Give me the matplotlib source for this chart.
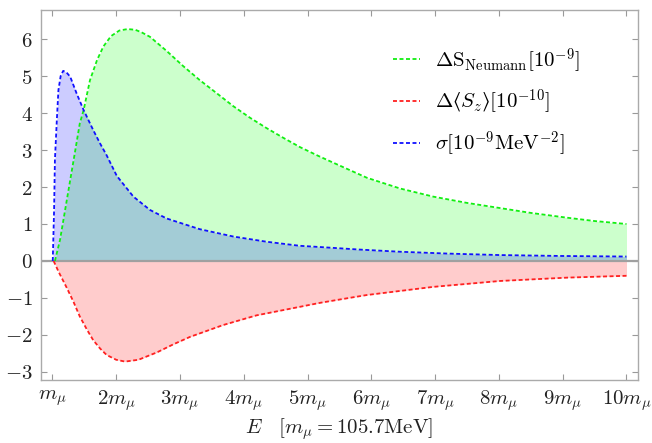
import numpy as np
import matplotlib
matplotlib.use("Agg")
import matplotlib.pyplot as plt

plt.rcParams["mathtext.fontset"] = "cm"
plt.rcParams["font.family"] = "serif"
plt.rcParams["font.serif"] = ["DejaVu Serif"]

# Delta S_Neumann [1e-9]
green_x = [1.04, 1.12, 1.2, 1.28, 1.36, 1.43, 1.49, 1.59, 1.7, 1.8, 1.92, 2.05, 2.18,
           2.3, 2.4, 2.53, 2.79, 3.05, 3.31, 3.58, 3.84, 4.1, 4.36, 4.62, 4.88, 5.17,
           5.4, 5.93, 6.45, 6.97, 7.5, 8.02, 8.5, 9.07, 9.5, 10.0]
green_y = [0.0, 0.57, 1.38, 2.19, 3.0, 3.72, 4.08, 4.89, 5.43, 5.8, 6.08, 6.23, 6.27,
           6.25, 6.18, 6.06, 5.68, 5.27, 4.89, 4.53, 4.18, 3.87, 3.59, 3.33, 3.08,
           2.84, 2.66, 2.25, 1.96, 1.74, 1.57, 1.43, 1.30, 1.17, 1.08, 1.0]

# Delta <S_z> [1e-10]
red_x = [1.02, 1.1, 1.23, 1.33, 1.43, 1.54, 1.64, 1.75, 1.85, 2.0, 2.14, 2.35, 2.64,
         2.9, 3.16, 3.68, 4.2, 4.73, 5.2, 5.51, 5.93, 6.97, 8.02, 9.07, 10.0]
red_y = [0.0, -0.3, -0.74, -1.1, -1.5, -1.85, -2.14, -2.37, -2.54, -2.67, -2.72, -2.67,
         -2.47, -2.25, -2.05, -1.73, -1.47, -1.29, -1.13, -1.04, -0.92, -0.7, -0.54,
         -0.45, -0.4]

# sigma [1e-9 MeV^-2]
blue_x = [1.006, 1.027, 1.04, 1.07, 1.095, 1.13, 1.17, 1.22, 1.28, 1.38, 1.49, 1.64,
          1.75, 1.85, 2.01, 2.27, 2.53, 2.79, 3.31, 3.84, 4.36, 4.88, 5.17, 5.8, 6.45,
          7.2, 8.02, 9.0, 10.0]
blue_y = [0.0, 1.38, 2.73, 3.81, 4.62, 5.0, 5.14, 5.1, 4.98, 4.53, 4.08, 3.54,
          3.17, 2.86, 2.3, 1.74, 1.38, 1.15, 0.86, 0.66, 0.52, 0.41, 0.38, 0.31, 0.25,
          0.2, 0.16, 0.135, 0.12]

xticks = list(range(1, 11))
xticklabels = [r"$m_\mu$"] + [rf"${k}m_\mu$" for k in range(2, 11)]
yticks = list(range(-3, 7))

fig = plt.figure(figsize=(6.52, 4.43), dpi=100)
ax = fig.add_axes([0.063, 0.142, 0.915, 0.835])

ax.fill_between(green_x, green_y, 0, color="#00ff00", alpha=0.2, lw=0)
ax.fill_between(red_x, red_y, 0, color="#ff0000", alpha=0.2, lw=0)
ax.fill_between(blue_x, blue_y, 0, color="#0000ff", alpha=0.2, lw=0)
ax.axhline(0, color="#a0a0a0", lw=1.6, zorder=2)

dash = (0, (2.2, 1.4))
ax.plot(green_x, green_y, color="#11ee11", lw=1.3, ls=dash, zorder=3,
        label=r"$\Delta\mathrm{S}_{\mathrm{Neumann}}[10^{-9}]$")
ax.plot(red_x, red_y, color="#ff2020", lw=1.3, ls=dash, zorder=3,
        label="$\\Delta\u27e8S_z\u27e9[10^{-10}]$")
ax.plot(blue_x, blue_y, color="#1010ff", lw=1.3, ls=dash, zorder=3,
        label=r"$\sigma[10^{-9}\mathrm{MeV}^{-2}]$")

ax.set_xlim(0.823, 10.175)
ax.set_ylim(-3.22, 6.78)
ax.set_xticks(xticks)
ax.set_xticklabels(xticklabels)
ax.set_yticks(yticks)
ax.set_yticklabels([rf"${v}$" for v in yticks])
ax.tick_params(direction="in", length=4, width=0.8, color="#999999",
               top=True, right=True, labelsize=15, labelcolor="#222222", pad=6)
for s in ax.spines.values():
    s.set_color("#aaaaaa")
    s.set_linewidth(1.0)
ax.set_xlabel(r"$E\quad[m_\mu=105.7\mathrm{MeV}]$", fontsize=15, color="#222222",
              labelpad=2)

ax.legend(loc="upper left", bbox_to_anchor=(0.558, 0.955), frameon=False, fontsize=15,
          handlelength=1.3, handletextpad=0.75, labelspacing=0.62)

fig.savefig("out.png", dpi=100)
